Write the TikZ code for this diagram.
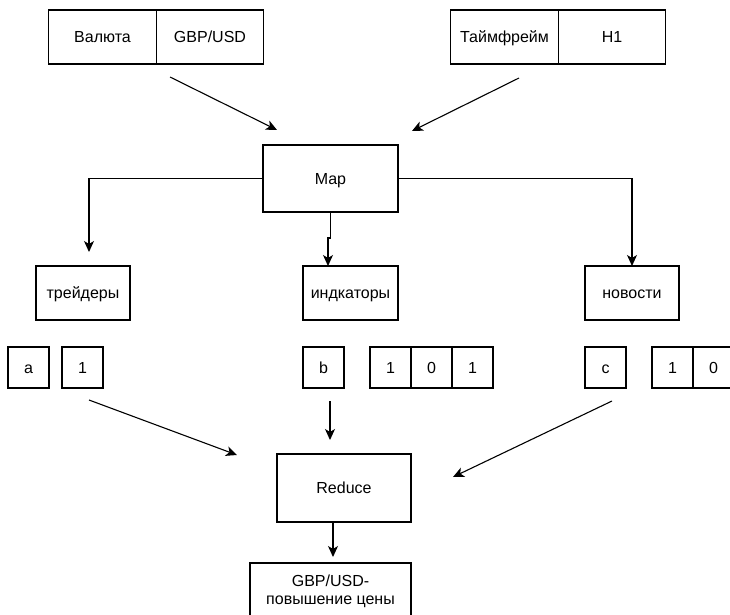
\documentclass[tikz,border=0pt]{standalone}
\usepackage{fontspec}
\setmainfont{Liberation Sans}
\usetikzlibrary{arrows.meta,positioning}

\begin{document}
\begin{tikzpicture}[x=1pt, y=-1pt,
    box/.style={draw, line width=1.2pt, inner sep=0pt, outer sep=0pt, minimum height=54pt, font=\fontsize{16}{18}\selectfont},
    lbl/.style={box, text height=11.5pt, text depth=0pt},
    cellbox/.style={lbl, minimum width=107.5pt},
    sq/.style={lbl, minimum width=41pt, minimum height=41pt},
    arr/.style={line width=1.1pt, -{Stealth[length=11pt, width=10pt, inset=3pt]}}]
    \clip (0,0) rectangle (730,615);

    % Input parameters
    \node[cellbox] (cur) at (102.5,37) {Валюта};
    \node[cellbox, right=0pt of cur] (pair) {GBP/USD};
    \node[cellbox] (tf) at (504.5,37) {Таймфрейм};
    \node[cellbox, right=0pt of tf] (tfval) {H1};

    % Map stage
    \node[lbl, minimum width=135pt, minimum height=67pt] (map) at (330.5,178.5) {Map};
    \node[lbl, minimum width=94pt] (trd) at (83,293) {трейдеры};
    \node[lbl, minimum width=95pt] (ind) at (350.5,293) {индкаторы};
    \node[lbl, minimum width=94pt] (nws) at (632,293) {новости};

    % Key-value pairs
    \node[sq] (ka) at (28.5,367.5) {a};
    \node[sq] (va) at (82.5,367.5) {1};
    \node[sq] (kb) at (323.5,367.5) {b};
    \foreach \v [count=\i] in {1,0,1}
        \node[sq] (vb\i) at ({349.5+41*\i},367.5) {\v};
    \node[sq] (kc) at (605.5,367.5) {c};
    \foreach \v [count=\i] in {1,0}
        \node[sq] (vc\i) at ({631.5+41*\i},367.5) {\v};

    % Reduce stage
    \node[lbl, minimum width=134pt, minimum height=68pt] (red) at (344,488) {Reduce};
    \node[box, minimum width=161pt, minimum height=57pt, align=center] (res) at (330.5,591.5) {GBP/USD-\\повышение цены};

    % Arrows into Map
    \coordinate (curout) at (170,77);
    \coordinate (mapinl) at (277,130);
    \coordinate (tfout) at (519,78);
    \coordinate (mapinr) at (412,131);
    \draw[arr] (curout) -- (mapinl);
    \draw[arr] (tfout) -- (mapinr);

    % Map to the three sources
    \coordinate (jog) at (328,238);
    \draw[arr, shorten >=14pt] (map.west) -| ([xshift=6pt]trd.north);
    \draw[arr] (map.south) -- (map.south |- jog) -- (jog) -- (jog |- ind.north);
    \draw[arr] (map.east) -| (nws.north);

    % Pairs into Reduce
    \coordinate (aout) at (89,400);
    \coordinate (ain) at (237,455);
    \coordinate (bout) at (330,401);
    \coordinate (bin) at (330,440);
    \coordinate (cout) at (612,401);
    \coordinate (cin) at (453,477);
    \draw[arr] (aout) -- (ain);
    \draw[arr] (bout) -- (bin);
    \draw[arr] (cout) -- (cin);

    % Result
    \coordinate (redout) at ([xshift=-11pt]red.south);
    \draw[arr, shorten >=6pt] (redout) -- (redout |- res.north);
\end{tikzpicture}
\end{document}
